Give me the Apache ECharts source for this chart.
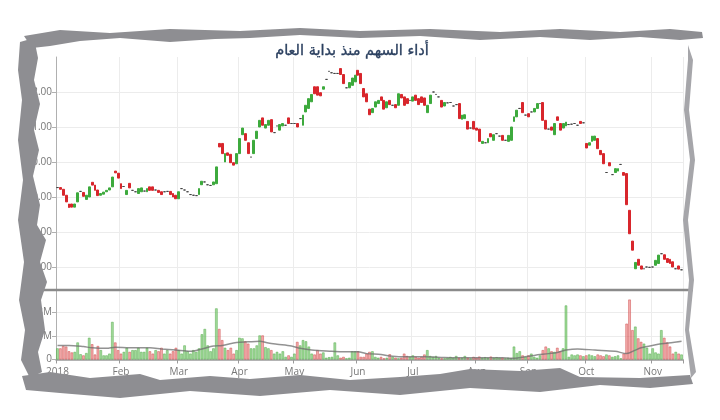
<!DOCTYPE html>
<html><head><meta charset="utf-8">
<script src="https://cdn.jsdelivr.net/npm/echarts@6/dist/echarts.min.js"></script>
<style>html,body{margin:0;padding:0;background:#fff}#c{width:720px;height:420px}</style>
</head><body><div id="c"></div>
<script>
// ---- DATA ----
const titleText = 'أداء السهم منذ بداية العام';
const months = ['2018-01','2018-02','2018-03','2018-04','2018-05','2018-06','2018-07','2018-08','2018-09','2018-10','2018-11'];
const monthNames = ['2018','Feb','Mar','Apr','May','Jun','Jul','Aug','Sep','Oct','Nov'];
const tradingDays = [
  [1,2,3,4,8,9,10,11,14,15,16,17,18,21,22,23,24,25,28,29,30,31],
  [1,4,5,6,7,8,11,12,13,14,15,18,19,20,21,22,25,26,27,28],
  [1,4,5,6,7,8,11,12,13,14,15,18,19,20,21,22,25,26,27,28,29],
  [1,2,3,4,5,10,11,12,15,16,17,18,19,22,23,24,26,29,30],
  [2,3,6,7,8,9,10,13,14,15,16,17,20,21,22,23,24,27,28,29,30,31],
  [3,4,5,6,7,10,11,12,13,17,18,19,20,21,24,25,26,27,28],
  [1,2,3,4,5,8,9,10,11,12,15,16,17,18,19,22,24,25,26,29,30,31],
  [1,2,5,6,7,8,9,12,13,14,15,16,19,26,27,28,29,30],
  [2,3,4,5,6,9,10,12,13,16,17,18,19,20,23,24,25,26,27,30],
  [1,2,3,4,7,8,9,10,11,14,15,16,17,18,21,22,23,24,25,28,29,30,31],
  [1,4,5,6,7,8,11,12,13,14,15]
];
const openP = [
 9.27,9.27,9.22,9.05,8.80,8.80,8.71,8.86,9.16,9.13,8.93,9.00,9.42,9.34,9.20,9.05,9.08,9.15,9.20,9.29,9.74,9.68,
 9.38,9.30,9.07,9.39,9.19,9.15,9.10,9.15,9.17,9.15,9.29,9.29,9.20,9.19,9.15,9.15,9.16,9.16,9.10,9.05,
 8.95,9.24,9.20,9.15,9.07,9.05,9.04,9.07,9.35,9.43,9.35,9.33,9.35,9.38,10.53,10.53,10.00,10.26,10.22,9.98,9.95,
 10.24,10.78,10.81,10.55,10.14,10.24,10.67,11.00,11.26,10.97,11.05,11.21,10.84,11.03,10.91,11.03,11.05,11.26,11.10,
 11.10,11.10,11.24,11.05,11.43,11.53,11.72,12.15,12.15,11.98,12.08,12.36,12.59,12.55,12.53,12.53,12.67,12.50,12.12,12.12,12.19,12.29,
 12.62,12.53,12.10,11.95,11.51,11.41,11.57,11.67,11.86,11.76,11.55,11.76,11.62,11.64,11.62,11.93,11.86,11.81,11.76,
 11.74,11.91,11.81,11.86,11.83,11.41,11.67,12.00,11.93,11.86,11.76,11.60,11.69,11.70,11.60,11.64,11.67,11.22,11.24,11.16,10.97,11.16,
 10.97,10.94,10.53,10.55,10.55,10.81,10.62,10.81,10.74,10.76,10.62,10.59,10.62,11.16,11.29,11.53,11.70,11.34,
 11.38,11.43,11.43,11.53,11.67,11.70,11.19,10.94,11.00,10.78,11.29,11.10,10.97,11.03,11.07,11.08,11.10,11.05,11.16,11.12,
 10.53,10.48,10.59,10.62,10.67,10.33,10.24,9.70,9.98,9.64,9.70,9.74,9.93,9.70,9.67,8.62,7.74,6.95,7.22,7.03,6.95,7.00,6.99,
 7.00,7.05,7.10,7.38,7.35,7.24,7.22,7.15,6.95,7.03,6.92
];
const closeP = [
 9.27,9.22,9.05,8.86,8.70,8.71,8.80,9.12,9.16,9.02,9.05,9.29,9.34,9.19,9.04,9.10,9.14,9.19,9.26,9.57,9.69,9.54,
 9.24,9.30,9.19,9.26,9.19,9.15,9.24,9.26,9.17,9.24,9.19,9.19,9.20,9.13,9.07,9.15,9.16,9.07,9.00,8.95,
 9.15,9.24,9.20,9.15,9.07,9.05,9.04,9.24,9.45,9.43,9.35,9.33,9.43,9.86,10.43,10.24,10.24,10.19,9.98,9.91,10.24,
 10.67,10.97,10.62,10.24,10.14,10.62,10.88,11.19,11.05,11.07,11.19,10.86,10.84,11.03,11.07,11.10,11.05,11.10,11.10,
 11.10,11.00,11.24,11.34,11.62,11.81,11.93,11.95,11.91,11.89,12.15,12.36,12.59,12.55,12.53,12.53,12.50,12.24,12.12,12.27,12.40,12.48,
 12.48,12.24,11.86,11.72,11.35,11.53,11.72,11.76,11.76,11.51,11.72,11.64,11.62,11.55,11.95,11.83,11.62,11.67,11.76,
 11.86,11.76,11.64,11.70,11.62,11.62,11.91,12.00,11.93,11.86,11.57,11.70,11.69,11.70,11.60,11.64,11.24,11.34,11.35,10.94,10.97,10.94,
 10.91,10.59,10.59,10.55,10.67,10.72,10.78,10.81,10.74,10.62,10.62,10.76,11.00,11.29,11.48,11.53,11.41,11.34,
 11.29,11.43,11.53,11.67,11.67,11.19,10.94,10.94,10.91,11.10,11.19,10.91,11.10,11.14,11.07,11.08,11.10,11.05,11.10,11.12,
 10.40,10.55,10.74,10.74,10.38,10.21,9.95,9.70,9.89,9.64,9.81,9.81,9.93,9.62,8.78,7.95,7.48,7.13,7.05,6.94,6.95,7.00,6.99,
 7.00,7.19,7.34,7.38,7.22,7.13,7.10,7.00,6.95,6.94,6.92
];
const volumeM = [
 1.9,1.9,2.3,2.2,1.4,1.2,1.3,2.9,0.9,0.7,1.1,3.7,2.6,0.85,2.3,1.6,0.7,0.7,1.0,6.4,2.9,1.6,
 1.0,1.3,2.0,1.3,1.6,1.6,2.0,1.3,1.3,2.0,1.4,1.0,1.6,1.4,2.0,1.0,1.6,1.0,1.4,2.0,
 1.6,1.0,2.4,1.4,1.0,1.6,1.3,1.9,4.3,5.2,2.4,1.4,1.9,8.7,5.2,3.3,2.0,1.6,2.0,1.0,1.6,
 3.7,3.6,3.1,2.7,1.9,1.9,2.4,4.1,4.1,2.1,1.9,1.6,1.0,1.3,1.0,1.4,0.45,0.7,0.45,
 1.0,3.0,2.4,3.3,3.1,2.2,1.0,0.85,1.6,1.0,1.2,0.3,0.4,0.45,2.9,0.7,0.3,0.45,0.2,0.3,1.4,1.4,
 1.4,0.45,0.45,1.0,1.3,1.4,0.45,0.3,0.45,0.2,0.3,0.9,0.45,0.3,0.2,0.3,1.0,0.6,0.45,
 0.7,0.45,0.3,0.45,0.85,1.6,0.6,0.45,0.6,0.3,0.2,0.2,0.3,0.45,0.3,0.6,0.3,0.3,0.6,0.3,0.2,0.45,
 0.3,0.5,0.3,0.4,0.3,0.5,0.3,0.4,0.3,0.3,0.2,0.3,0.2,2.2,1.1,1.4,0.7,0.45,
 0.7,1.0,0.45,0.3,0.7,1.6,2.2,1.9,1.4,1.3,2.0,1.4,1.9,9.2,0.45,0.85,0.7,0.85,0.7,0.55,
 0.7,0.85,0.7,0.55,0.85,0.7,0.55,0.85,0.7,0.45,0.55,0.7,0.2,1.0,6.1,10.2,5.0,5.6,3.6,3.0,2.7,2.0,1.0,
 1.9,1.2,1.0,5.0,3.7,2.9,2.2,1.0,1.3,1.0,0.85
];
const maDates = ['2018-01-01','2018-01-08','2018-01-15','2018-01-18','2018-01-25','2018-01-30','2018-02-06','2018-02-15','2018-02-21','2018-02-28',
 '2018-03-07','2018-03-13','2018-03-19','2018-03-22','2018-03-29','2018-04-04','2018-04-12','2018-04-17','2018-04-22','2018-04-30',
 '2018-05-06','2018-05-10','2018-05-21','2018-05-27','2018-06-03','2018-06-06','2018-06-13','2018-06-19','2018-06-27',
 '2018-07-05','2018-07-16','2018-07-26','2018-08-14','2018-08-19','2018-08-29','2018-09-04','2018-09-12','2018-09-17','2018-09-20','2018-09-26',
 '2018-10-04','2018-10-15','2018-10-21','2018-10-24','2018-10-28','2018-10-31','2018-11-06','2018-11-12','2018-11-15'];
const maValues = [2.4,2.4,2.2,2.0,1.9,2.1,2.0,2.0,1.8,1.6,
 1.4,1.8,2.3,2.4,2.9,3.0,3.1,2.8,2.6,2.3,
 1.9,1.6,1.4,1.3,1.3,1.0,0.85,0.6,0.45,
 0.45,0.35,0.3,0.3,0.2,0.4,0.7,1.0,1.2,1.6,1.8,
 1.6,1.4,1.0,1.6,2.0,2.3,2.7,2.9,3.1];

// ---- BUILD ----
const dates = [];
months.forEach((m,k)=>tradingDays[k].forEach(d=>dates.push(m+'-'+String(d).padStart(2,'0'))));
const monthStart = new Set();
months.forEach((m,k)=>monthStart.add(m+'-'+String(tradingDays[k][0]).padStart(2,'0')));
const isMonthStart = (i)=>monthStart.has(dates[i]);
const candle = dates.map((d,i)=>[openP[i],closeP[i],Math.min(openP[i],closeP[i]),Math.max(openP[i],closeP[i])]);
const UP='#3daa3d', DOWN='#d8262c';
const VUP='rgba(125,205,115,0.7)', VUPB='rgba(85,170,75,0.85)';
const VDN='rgba(238,125,125,0.62)', VDNB='rgba(205,70,70,0.8)';
const volItems = volumeM.map((v,i)=>{
  const up = closeP[i]>=openP[i];
  return {value:v,itemStyle:{color:up?VUP:VDN,borderColor:up?VUPB:VDNB,borderWidth:0.6}};
});
const GRID='#ececec';
const FONT='"Open Sans", "DejaVu Sans", sans-serif';

const chart = echarts.init(document.getElementById('c'), null, {renderer:'canvas'});
const frameColor = '#8e8e92';
const frameLight = '#a6a6aa';
chart.setOption({
  animation:false,
  backgroundColor:'#fff',
  title:{text:titleText,left:347,textAlign:'center',top:39,textStyle:{fontFamily:'"DejaVu Sans", sans-serif',fontSize:14.5,fontWeight:'normal',color:'#2a3f5f',textBorderColor:'#2a3f5f',textBorderWidth:0.35}},
  grid:[{left:56,right:37,top:57,height:245},{left:56,right:37,top:293.1,height:66.4}],
  xAxis:[
    {type:'category',gridIndex:0,data:dates,boundaryGap:true,axisLine:{show:false},axisTick:{show:false},axisLabel:{show:false},
     splitLine:{show:true,interval:(i)=>isMonthStart(i),lineStyle:{color:GRID,width:1}}},
    {type:'category',gridIndex:1,data:dates,boundaryGap:true,offset:4.5,
     axisLine:{show:true,lineStyle:{color:'#9a9a9a',width:1.5}},
     axisTick:{show:true,interval:(i)=>isMonthStart(i),length:4,lineStyle:{color:'#9a9a9a'}},
     axisLabel:{interval:(i)=>isMonthStart(i),fontSize:10,color:'#777',fontFamily:FONT,margin:3,
       formatter:(v)=>{const k=months.indexOf(v.slice(0,7));return monthNames[k];}},
     splitLine:{show:true,interval:(i)=>isMonthStart(i),lineStyle:{color:GRID,width:1}}}
  ],
  yAxis:[
    {type:'value',gridIndex:0,min:6,max:13,interval:1,
     axisLine:{show:true,lineStyle:{color:'#b0b0b0'}},axisTick:{show:true,length:4,lineStyle:{color:'#b0b0b0'}},
     axisLabel:{showMinLabel:false,showMaxLabel:false,fontSize:10,color:'#777',fontFamily:FONT,margin:4,formatter:(v)=>v.toFixed(2)},
     splitLine:{show:true,showMinLine:false,showMaxLine:false,lineStyle:{color:GRID}}},
    {type:'value',gridIndex:1,min:0,max:11.3,interval:4,
     axisLine:{show:true,lineStyle:{color:'#b0b0b0'}},axisTick:{show:true,length:4,lineStyle:{color:'#b0b0b0'}},
     axisLabel:{showMaxLabel:false,fontSize:10,color:'#777',fontFamily:FONT,margin:4,formatter:(v)=>v===0?'0':v+'M'},
     splitLine:{show:true,showMaxLine:false,lineStyle:{color:GRID}}}
  ],
  series:[
    {type:'candlestick',xAxisIndex:0,yAxisIndex:0,data:candle,barWidth:2.4,
     itemStyle:{color:UP,color0:DOWN,borderColor:UP,borderColor0:DOWN,borderColorDoji:'#444',borderWidth:1}},
    {type:'bar',xAxisIndex:1,yAxisIndex:1,data:volItems,barWidth:'88%'},
    {type:'line',xAxisIndex:1,yAxisIndex:1,data:maDates.map((d,i)=>[d,maValues[i]]),showSymbol:false,smooth:0.3,
     lineStyle:{color:'rgba(110,110,110,0.75)',width:1.5},z:5}
  ],
  graphic:[
    {type:'line',shape:{x1:28,y1:290,x2:693,y2:290},style:{stroke:'#8a8a8a',lineWidth:2.5},z:50},
    // top torn edge
    {type:'polygon',z:100,style:{fill:frameColor},shape:{points:[[24,36],[60,30],[110,33],[170,29],[240,31],[300,28],[360,31],[430,29],[500,32],[560,29],[620,32],[670,29],[702,32],[703,38],[680,40],[640,37],[590,40],[540,37],[480,40],[420,36],[360,38],[300,35],[250,38],[215,39],[170,42],[120,38],[80,41],[50,46],[32,48]]}},
    // left torn edge
    {type:'polygon',z:100,style:{fill:frameColor},shape:{points:[[20,42],[34,38],[38,58],[34,80],[40,104],[34,130],[39,150],[33,176],[40,205],[37,225],[46,240],[40,262],[47,282],[41,300],[45,330],[38,352],[42,372],[30,378],[21,360],[25,330],[19,300],[24,262],[18,220],[23,180],[18,140],[22,100],[18,70]]}},
    // bottom torn edge
    {type:'polygon',z:100,style:{fill:frameColor},shape:{points:[[22,376],[50,372],[90,378],[140,374],[160,380],[210,376],[250,379],[300,375],[350,380],[400,377],[440,374],[470,369],[520,371],[560,368],[580,377],[640,378],[690,375],[693,384],[650,388],[600,385],[540,392],[470,388],[400,395],[330,390],[260,396],[190,391],[120,398],[60,393],[26,390]]}},
    // right torn edge (lighter)
    {type:'polygon',z:100,style:{fill:frameLight},shape:{points:[[688,45],[693,60],[689,110],[695,160],[688,220],[694,280],[689,330],[696,372],[691,378],[685,330],[689,280],[683,220],[690,160],[684,110],[688,60]]}}
  ]
});
</script></body></html>
